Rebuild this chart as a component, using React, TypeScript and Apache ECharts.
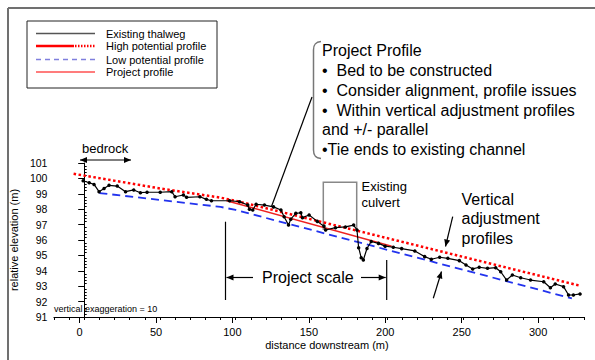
import React, { useEffect, useRef } from "react";
import * as echarts from "echarts";

// ---- data ----
const thalwegDist = [
  -0.7, 3.3, 6.5, 9.8, 13.1, 16.4, 21.8, 27.3, 32.7, 37.1, 41.5, 50.2, 57.8, 60, 65.5, 67.6, 76.4, 80.7, 84, 96,
  102.6, 108, 109.1, 111.3, 113.5, 119, 125, 129.9, 132, 134.9, 136.4, 139.7, 143, 144.1, 148.5, 153.9, 158.3,
  159.4, 165.9, 172.5, 177.9, 180.1, 181.2, 182.9, 184.3, 186.7, 189.5, 194.3, 198.7, 204.1, 209.6, 218.3, 224.8,
  229.2, 234.7, 240.1, 247.7, 252.1, 256.5, 260.8, 266.3, 271.7, 275, 278.9, 282.7, 288.2, 294.7, 303.4, 307.8,
  311, 316.5, 319.8, 323, 327.4,
];
const thalwegElev = [
  99.85, 99.72, 99.61, 99.14, 99.35, 99.55, 99.5, 99.14, 99.25, 99.07, 99.1, 99.1, 99.14, 98.81, 98.92, 98.77,
  98.81, 98.64, 98.55, 98.55, 98.49, 98.27, 97.99, 97.95, 98.32, 98.27, 98.15, 97.95, 97.51, 96.97, 97.35, 97.73,
  97.77, 97.45, 97.62, 97.21, 96.9, 96.65, 96.8, 96.85, 96.97, 96.65, 95.5, 94.85, 94.7, 95.45, 95.9, 95.78, 95.6,
  95.53, 95.44, 95.29, 94.92, 94.75, 94.88, 94.81, 94.66, 94.38, 94.12, 94.23, 94.16, 94.2, 93.94, 93.4, 93.73,
  93.55, 93.4, 93.29, 92.9, 93.14, 92.97, 92.43, 92.43, 92.5,
];
const highDist = [-7, 50, 90, 100, 327.4];
const highElev = [100.3, 99.35, 98.75, 98.55, 93.03];
const lowDist = [10, 50, 90, 100, 322];
const lowElev = [99.05, 98.6, 98.15, 97.95, 92.21];
const projectDist = [94, 203];
const projectElev = [98.55, 95.6];
const xLabelStep = 50;
const xMin = -20;
const xMax = 330;
const yMin = 91;
const yMax = 101;

const zip = (a: number[], b: number[]) => a.map((v, i) => [v, b[i]]);

const FONT = "Liberation Sans, Arial, sans-serif";

function arrowHead(tipX: number, tipY: number, fromX: number, fromY: number, len = 7, half = 3) {
  const dx = tipX - fromX;
  const dy = tipY - fromY;
  const d = Math.sqrt(dx * dx + dy * dy) || 1;
  const ux = dx / d;
  const uy = dy / d;
  const bx = tipX - ux * len;
  const by = tipY - uy * len;
  return {
    type: "polygon",
    shape: {
      points: [
        [tipX, tipY],
        [bx - uy * half, by + ux * half],
        [bx + uy * half, by - ux * half],
      ],
    },
    style: { fill: "#000" },
    silent: true,
  };
}

function arrowLine(x1: number, y1: number, x2: number, y2: number, head2 = true, head1 = false) {
  const els: any[] = [
    { type: "line", shape: { x1, y1, x2, y2 }, style: { stroke: "#000", lineWidth: 1.2 }, silent: true },
  ];
  if (head2) els.push(arrowHead(x2, y2, x1, y1));
  if (head1) els.push(arrowHead(x1, y1, x2, y2));
  return els;
}

function txt(text: string, x: number, y: number, size: number, extra: any = {}) {
  return {
    type: "text",
    x,
    y,
    style: { text, fontSize: size, fontFamily: FONT, fill: "#000", verticalAlign: "middle", align: "left", ...extra },
    silent: true,
  };
}

export default function App() {
  const ref = useRef<HTMLDivElement>(null);
  useEffect(() => {
    if (!ref.current) return;
    const chart = echarts.init(ref.current, null, { renderer: "svg" });
    const gridLeft = 49;
    const gridRight = 11;
    const plotW = 595 - gridLeft - gridRight;
    const pxPerUnit = plotW / (xMax - xMin);
    const g2Left = gridLeft + (0 - xMin) * pxPerUnit;
    const g2Right = 595 - (gridLeft + (300 - xMin) * pxPerUnit);

    const graphics: any[] = [
      // frame
      { type: "line", shape: { x1: 8, y1: 8, x2: 595, y2: 8 }, style: { stroke: "#707070", lineWidth: 2 }, silent: true },
      { type: "line", shape: { x1: 8, y1: 8, x2: 8, y2: 360 }, style: { stroke: "#707070", lineWidth: 2 }, silent: true },
      // legend
      { type: "rect", shape: { x: 27, y: 21, width: 190, height: 67 }, style: { fill: "#fff", stroke: "#222", lineWidth: 1 }, silent: true },
      { type: "line", shape: { x1: 36, y1: 33.5, x2: 95, y2: 33.5 }, style: { stroke: "#555", lineWidth: 1.5 }, silent: true },
      { type: "line", shape: { x1: 36, y1: 46, x2: 74, y2: 46 }, style: { stroke: "#ff0000", lineWidth: 2.5 }, silent: true },
      { type: "line", shape: { x1: 75, y1: 46, x2: 95, y2: 46 }, style: { stroke: "#ff0000", lineWidth: 2.5, lineDash: [1.5, 1.5] }, silent: true },
      { type: "line", shape: { x1: 36, y1: 59.5, x2: 95, y2: 59.5 }, style: { stroke: "#7f7fdd", lineWidth: 1.5, lineDash: [5, 4] }, silent: true },
      { type: "line", shape: { x1: 36, y1: 72, x2: 95, y2: 72 }, style: { stroke: "#ff5050", lineWidth: 1.5 }, silent: true },
      txt("Existing thalweg", 106, 33.5, 11),
      txt("High potential profile", 106, 46, 11),
      txt("Low potential profile", 106, 59.5, 11),
      txt("Project profile", 106, 72, 11),
      // bedrock
      txt("bedrock", 82, 148, 13),
      ...arrowLine(80, 160, 131, 160, true, true),
      // project profile note
      txt("Project Profile", 322, 50.7, 16),
      txt("\u2022  Bed to be constructed", 322, 70.5, 16),
      txt("\u2022  Consider alignment, profile issues", 322, 90.3, 16),
      txt("\u2022  Within vertical adjustment profiles", 322, 110, 16),
      txt("and +/- parallel", 322, 129.8, 16),
      txt("\u2022Tie ends to existing channel", 322, 149.5, 16),
      { type: "bezierCurve", shape: { x1: 321, y1: 41.5, cpx1: 315, cpy1: 42, x2: 313.5, y2: 50, cpx2: 313.5, cpy2: 45 }, style: { stroke: "#777", lineWidth: 1.5, fill: null }, silent: true },
      { type: "line", shape: { x1: 313.5, y1: 50, x2: 313.5, y2: 150 }, style: { stroke: "#777", lineWidth: 1.5 }, silent: true },
      { type: "bezierCurve", shape: { x1: 313.5, y1: 150, cpx1: 313.5, cpy1: 155, x2: 321, y2: 158.5, cpx2: 315, cpy2: 158 }, style: { stroke: "#777", lineWidth: 1.5, fill: null }, silent: true },
      { type: "line", shape: { x1: 312, y1: 97, x2: 271.5, y2: 206.5 }, style: { stroke: "#000", lineWidth: 1.2 }, silent: true },
      // culvert
      { type: "polyline", shape: { points: [[323.3, 230], [323.3, 182.3], [356.7, 182.3], [356.7, 231.5]] }, style: { stroke: "#888", lineWidth: 1.5, fill: null }, silent: true },
      txt("Existing", 361.5, 186.5, 13),
      txt("culvert", 361.5, 202.5, 13),
      // vertical adjustment profiles
      txt("Vertical", 461.5, 199.3, 16),
      txt("adjustment", 461.5, 218.8, 16),
      txt("profiles", 461.5, 238.3, 16),
      ...arrowLine(452.7, 216.7, 445.5, 246.5),
      ...arrowLine(433.3, 298.3, 441.5, 271.5),
      // project scale
      { type: "line", shape: { x1: 225.5, y1: 221.7, x2: 225.5, y2: 300 }, style: { stroke: "#000", lineWidth: 1.2 }, silent: true },
      { type: "line", shape: { x1: 386.7, y1: 260, x2: 386.7, y2: 300 }, style: { stroke: "#000", lineWidth: 1.2 }, silent: true },
      ...arrowLine(253, 277.5, 226.5, 277.5),
      ...arrowLine(361, 277.5, 385.7, 277.5),
      txt("Project scale", 262, 277.7, 16),
      // exaggeration
      txt("vertical exaggeration = 10", 54, 308.5, 9),
    ];

    chart.setOption({
      animation: false,
      backgroundColor: "#fff",
      textStyle: { fontFamily: FONT },
      grid: [
        { left: gridLeft, right: gridRight, top: 163, bottom: 43, containLabel: false },
        { left: g2Left, right: g2Right, top: 163, bottom: 43, containLabel: false, show: false },
      ],
      xAxis: [
        {
          type: "value",
          gridIndex: 0,
          min: xMin,
          max: xMax,
          interval: 10,
          name: "distance downstream (m)",
          nameLocation: "middle",
          nameGap: 22,
          nameTextStyle: { fontSize: 11, color: "#000", fontFamily: FONT, padding: [0, 0, 0, 16] },
          axisLine: { lineStyle: { color: "#000", width: 1 } },
          axisTick: { length: 3, lineStyle: { color: "#000" } },
          axisLabel: { show: false },
          splitLine: { show: false },
        },
        {
          type: "value",
          gridIndex: 1,
          min: 0,
          max: 300,
          interval: xLabelStep,
          axisLine: { show: false },
          axisTick: { length: 6, lineStyle: { color: "#000" } },
          axisLabel: { fontSize: 11, color: "#000", margin: 9, fontFamily: FONT },
          splitLine: { show: false },
        },
      ],
      yAxis: [
        {
          type: "value",
          gridIndex: 0,
          min: yMin,
          max: yMax,
          interval: 1,
          name: "relative elevation (m)",
          nameLocation: "middle",
          nameGap: 23,
          nameTextStyle: { fontSize: 11, color: "#000", fontFamily: FONT },
          axisLine: { show: true, lineStyle: { color: "#000", width: 1 } },
          axisTick: { show: true, length: 6, lineStyle: { color: "#000" } },
          minorTick: { show: true, splitNumber: 5, length: -2.5, lineStyle: { color: "#000" } },
          axisLabel: { fontSize: 10.5, color: "#000", margin: 6.5, fontFamily: FONT },
          splitLine: { show: false },
        },
        { type: "value", gridIndex: 1, min: yMin, max: yMax, show: false },
      ],
      graphic: graphics,
      series: [
        {
          name: "Low potential profile",
          type: "line",
          data: zip(lowDist, lowElev),
          showSymbol: false,
          symbol: "none",
          lineStyle: { color: "#2233ee", width: 1.8, type: [8, 5] },
          z: 2,
        },
        {
          name: "High potential profile",
          type: "line",
          data: zip(highDist, highElev),
          showSymbol: false,
          symbol: "none",
          lineStyle: { color: "#ff0000", width: 2.5, type: [2.5, 2.5] },
          z: 3,
        },
        {
          name: "Project profile",
          type: "line",
          data: zip(projectDist, projectElev),
          showSymbol: false,
          symbol: "none",
          lineStyle: { color: "#ee2020", width: 1.5 },
          z: 4,
        },
        {
          name: "Existing thalweg",
          type: "line",
          data: zip(thalwegDist, thalwegElev),
          symbol: "circle",
          symbolSize: 3.5,
          showSymbol: true,
          itemStyle: { color: "#000" },
          lineStyle: { color: "#000", width: 1.2 },
          z: 5,
        },
      ],
    });
    return () => chart.dispose();
  }, []);
  return <div ref={ref} style={{ position: "fixed", left: 0, top: 0, width: 595, height: 360 }} />;
}
